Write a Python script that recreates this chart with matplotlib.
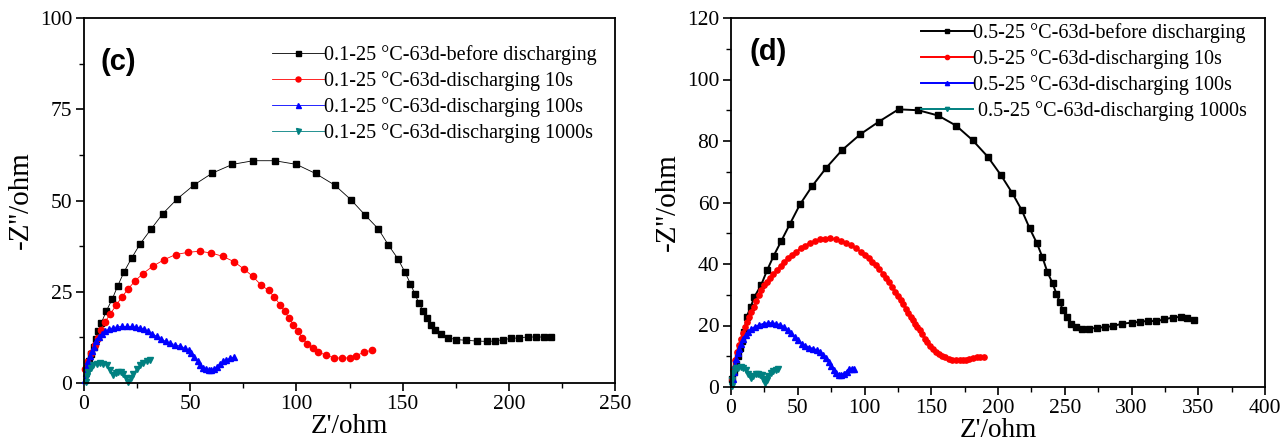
import matplotlib
matplotlib.use("Agg")
import matplotlib.pyplot as plt
from matplotlib.ticker import MultipleLocator

plt.rcParams['font.family'] = ['Liberation Serif', 'DejaVu Serif']
plt.rcParams['mathtext.fontset'] = 'stix'

# ---- panel (c) data: Z' (ohm), -Z'' (ohm) ----
c_before_x = [1.5, 2.5, 3.5, 4.5, 5.5, 6.8, 8.2, 10.4, 13.3, 15.8, 18.9, 22.4, 26.4, 31.5, 37.1, 44.0,
              51.9, 60.4, 69.9, 79.7, 89.8, 100.0, 109.0, 118.1, 125.7, 132.2, 138.6, 143.2, 147.7,
              151.0, 153.7, 155.8, 157.7, 159.7, 161.6, 163.5, 165.4, 168.0, 171.2, 175.1, 180.0,
              184.8, 189.6, 193.4, 197.3, 201.2, 205.0, 209.0, 212.8, 216.7, 220.0]
c_before_y = [4.0, 6.0, 8.0, 10.0, 12.0, 14.2, 16.5, 19.6, 23.0, 26.5, 30.5, 34.2, 38.1, 42.1, 46.4, 50.5,
              54.3, 57.5, 59.9, 60.9, 60.9, 59.9, 57.4, 54.2, 50.2, 46.1, 42.2, 37.9, 34.1,
              30.5, 27.2, 24.3, 21.9, 19.6, 17.8, 16.0, 14.6, 13.3, 12.4, 11.9, 11.7,
              11.5, 11.4, 11.5, 11.9, 12.2, 12.4, 12.6, 12.6, 12.6, 12.6]
c_10s_x = [0.4, 1.5, 3.3, 5.0, 6.5, 8.0, 9.7, 12.4, 15.1, 17.8, 20.8, 24.1, 27.8, 32.4, 37.8, 43.2, 49.0,
           54.4, 60.0, 65.4, 70.7, 75.1, 79.5, 83.4, 86.9, 89.6, 92.3, 94.4, 96.5, 98.5, 100.8, 102.7,
           105.0, 107.7, 110.4, 113.9, 117.8, 121.6, 125.1, 128.2, 131.7, 135.5]
c_10s_y = [3.7, 5.8, 8.2, 10.4, 12.4, 14.4, 16.6, 18.9, 21.3, 23.5, 25.8, 28.0, 30.0, 32.0, 33.8, 35.2, 35.8,
           36.1, 35.6, 34.7, 33.2, 31.3, 29.2, 26.8, 25.4, 23.5, 21.5, 19.6, 17.8, 16.0, 14.2, 12.3,
           10.8, 9.6, 8.5, 7.6, 6.9, 6.8, 6.9, 7.5, 8.4, 9.0]
c_100s_x = [0.4, 0.9, 1.4, 2.0, 2.7, 3.6, 4.6, 5.8, 7.1, 8.5, 10.0, 11.7, 13.5, 15.6, 17.8, 20.2, 22.6,
            24.5, 26.4, 28.4, 30.3, 32.2, 34.2, 36.4, 38.6, 40.6, 42.9, 45.2, 47.7, 49.2, 50.6, 52.0,
            53.5, 54.8, 56.0, 57.4, 58.7, 60.0, 61.2, 62.6, 64.1, 65.5, 67.0, 68.9, 70.8]
c_100s_y = [0.9, 2.8, 4.6, 6.0, 7.3, 8.7, 10.0, 11.4, 12.6, 13.5, 14.2, 14.7, 15.1, 15.4, 15.5, 15.5, 15.5,
            15.3, 15.1, 14.7, 14.2, 13.5, 12.8, 12.0, 11.4, 10.9, 10.5, 10.1, 9.6, 9.0, 8.2, 7.0,
            5.9, 4.9, 4.1, 3.7, 3.5, 3.5, 3.8, 4.5, 5.3, 5.9, 6.4, 6.8, 7.1]
c_1000s_x = [0.9, 1.4, 2.0, 3.1, 4.4, 5.9, 7.5, 9.1, 10.7, 12.3, 13.8, 15.0, 16.1, 17.3, 18.5, 19.7,
             20.9, 22.0, 23.2, 24.8, 26.4, 28.0, 29.5, 31.1]
c_1000s_y = [0.4, 1.8, 3.1, 4.1, 4.9, 5.3, 5.4, 5.3, 4.9, 3.6, 2.2, 2.7, 3.1, 3.0, 2.6, 1.5,
             0.4, 1.5, 2.6, 3.8, 4.9, 5.5, 6.0, 6.3]

# ---- panel (d) data ----
d_before_x = [1.0, 2.5, 4.0, 5.5, 7.0, 8.3, 10.0, 11.7, 14.8, 17.5, 22.5, 27.1, 32.0, 37.8, 44.0, 51.7,
              60.9, 71.4, 83.1, 96.9, 110.8, 125.5, 140.3, 155.1, 168.6, 180.9, 192.3, 202.2, 210.8,
              217.8, 223.7, 229.2, 233.2, 236.9, 240.9, 243.7, 246.2, 248.6, 251.4, 254.8, 258.5, 263.1,
              268.3, 273.8, 280.0, 286.2, 292.9, 300.0, 306.2, 312.3, 318.5, 324.6, 330.8, 336.9,
              341.5, 347.0]
d_before_y = [2.5, 4.9, 7.6, 10.2, 12.8, 15.0, 17.9, 22.8, 26.1, 29.3, 33.1, 38.0, 42.7, 47.6, 52.9, 59.4,
              65.4, 71.3, 77.0, 82.2, 86.3, 90.3, 90.0, 88.3, 85.0, 80.3, 74.9, 68.9, 63.0,
              57.5, 51.6, 46.7, 42.3, 37.5, 33.7, 30.4, 27.7, 25.0, 22.8, 20.6, 19.5, 19.0,
              19.0, 19.2, 19.5, 19.8, 20.6, 20.9, 21.2, 21.5, 21.4, 22.0, 22.6, 22.8,
              22.5, 21.9]
d_10s_x = [0.5, 1.5, 3.0, 4.6, 6.2, 7.7, 9.2, 10.8, 12.3, 13.8, 15.3, 16.9, 18.9, 20.9, 22.7, 24.6, 26.9,
           29.2, 31.8, 34.5, 37.2, 40.0, 42.7, 45.5, 48.9, 52.3, 55.7, 59.1, 62.9, 66.8, 70.6, 74.5,
           78.5, 82.5, 86.1, 89.8, 93.5, 97.2, 100.1, 103.1, 105.8, 108.6, 111.2, 113.8, 116.1, 118.5,
           120.8, 123.1, 125.1, 127.1, 128.9, 130.8, 132.6, 134.5, 136.1, 137.8, 139.6, 141.5, 143.3,
           145.2, 147.0, 148.9, 151.0, 153.2, 155.5, 157.8, 160.4, 163.1, 165.8, 168.6, 171.2, 173.8,
           176.1, 178.5, 181.2, 184.0, 186.6, 189.2]
d_10s_y = [2.5, 6.0, 8.7, 11.4, 13.5, 15.7, 17.6, 19.5, 21.1, 22.8, 24.4, 26.1, 28.0, 29.9, 31.5, 33.1, 34.2,
           35.3, 36.6, 38.0, 39.4, 40.7, 41.8, 42.9, 44.0, 45.1, 46.0, 46.9, 47.5, 48.1, 48.2, 48.3,
           48.0, 47.6, 46.9, 46.1, 45.1, 44.0, 42.9, 41.8, 40.7, 39.6, 38.3, 36.9, 35.6, 34.2,
           32.6, 30.9, 29.6, 28.2, 26.9, 25.5, 24.2, 22.8, 21.7, 20.6, 19.6, 18.5, 17.1,
           15.7, 14.6, 13.4, 12.4, 11.4, 10.7, 10.1, 9.6, 9.2, 8.9, 8.7, 8.7, 8.7,
           8.8, 9.0, 9.3, 9.6, 9.7, 9.8]
d_100s_x = [1.5, 2.2, 3.0, 3.7, 4.9, 6.2, 7.7, 9.2, 11.0, 12.9, 15.3, 17.8, 21.2, 24.6, 27.7, 30.8, 33.9,
            36.9, 39.7, 42.5, 45.1, 47.7, 50.3, 52.9, 55.7, 58.5, 61.5, 64.6, 66.9, 69.2, 71.2, 73.2,
            75.0, 76.9, 78.7, 80.6, 82.6, 84.6, 86.6, 88.6, 90.5, 92.3]
d_100s_y = [2.7, 5.0, 7.2, 9.2, 10.9, 12.5, 14.1, 15.7, 16.9, 17.9, 18.8, 19.5, 20.1, 20.6, 20.7, 20.8, 20.5,
            20.1, 19.4, 18.5, 17.4, 16.3, 15.2, 14.1, 13.4, 12.8, 12.4, 11.9, 11.3, 10.5, 9.4, 8.1,
            6.7, 5.4, 4.5, 4.0, 4.0, 4.3, 5.0, 5.8, 6.0, 6.0]
d_1000s_x = [0.5, 1.1, 1.7, 2.8, 4.0, 5.5, 7.3, 9.2, 11.1, 13.0, 14.8, 16.7, 18.6, 20.5, 21.7, 23.0,
             24.2, 25.5, 26.7, 27.9, 29.8, 31.7, 33.5, 35.4]
d_1000s_y = [0.2, 2.4, 4.5, 5.4, 6.1, 6.3, 6.4, 6.3, 5.6, 4.3, 2.9, 3.6, 4.2, 4.2, 4.0, 4.0,
             2.6, 1.3, 2.4, 3.5, 4.4, 5.3, 5.6, 5.9]

c_labels = ['0.1-25 °C-63d-before discharging', '0.1-25 °C-63d-discharging 10s',
            '0.1-25 °C-63d-discharging 100s', '0.1-25 °C-63d-discharging 1000s']
d_labels = ['0.5-25 °C-63d-before discharging', '0.5-25 °C-63d-discharging 10s',
            '0.5-25 °C-63d-discharging 100s', ' 0.5-25 °C-63d-discharging 1000s']
colors = ['black', 'red', 'blue', '#008080']
markers = ['s', 'o', '^', 'v']

fig = plt.figure(figsize=(12.83, 4.43), dpi=100)
ax1 = fig.add_axes([84 / 1283, 60 / 443, 531 / 1283, 365 / 443])
ax2 = fig.add_axes([731 / 1283, 56 / 443, 534 / 1283, 369 / 443])


def style(ax, xmax, ymax, xmaj, ymaj, xmin, ymin, xpad):
    ax.set_xlim(0, xmax)
    ax.set_ylim(0, ymax)
    ax.xaxis.set_major_locator(MultipleLocator(xmaj))
    ax.yaxis.set_major_locator(MultipleLocator(ymaj))
    ax.xaxis.set_minor_locator(MultipleLocator(xmin))
    ax.yaxis.set_minor_locator(MultipleLocator(ymin))
    ax.tick_params(which='major', direction='out', length=6, width=1.2, labelsize=15.5, pad=2.5)
    ax.tick_params(which='minor', direction='out', length=3.5, width=1.0)
    for s in ax.spines.values():
        s.set_linewidth(1.3)
    ax.set_xlabel("Z'/ohm", fontsize=19.5, labelpad=xpad)
    ax.set_ylabel("-Z''/ohm", fontsize=21, labelpad=4)


series_c = [(c_before_x, c_before_y), (c_10s_x, c_10s_y), (c_100s_x, c_100s_y), (c_1000s_x, c_1000s_y)]
for (x, y), col, m, lab in zip(series_c, colors, markers, c_labels):
    ax1.plot(x, y, color=col, marker=m, markersize=4.5, lw=0.6, label=lab, clip_on=False)
style(ax1, 250, 100, 50, 25, 25, 12.5, 0)
ax1.text(8, 88, '(c)', fontsize=21, fontweight='bold', family='Liberation Sans', va='center')
ax1.legend(loc='upper right', bbox_to_anchor=(1.0, 0.975), frameon=False, fontsize=14.5,
           handlelength=2.6, handletextpad=0.0, labelspacing=0.3, markerscale=0.8)

series_d = [(d_before_x, d_before_y), (d_10s_x, d_10s_y), (d_100s_x, d_100s_y), (d_1000s_x, d_1000s_y)]
for (x, y), col, m, lab in zip(series_d, colors, markers, d_labels):
    ax2.plot(x, y, color=col, marker=m, markersize=3.8, lw=1.4, label=lab, clip_on=False)
style(ax2, 400, 120, 50, 20, 25, 10, 0)
ax2.text(14, 109, '(d)', fontsize=21, fontweight='bold', family='Liberation Sans', va='center')
ax2.legend(loc='upper right', bbox_to_anchor=(1.0, 1.035), frameon=False, fontsize=14.5,
           handlelength=2.6, handletextpad=0.0, labelspacing=0.3, markerscale=0.8)

fig.savefig('out.png', dpi=100)
